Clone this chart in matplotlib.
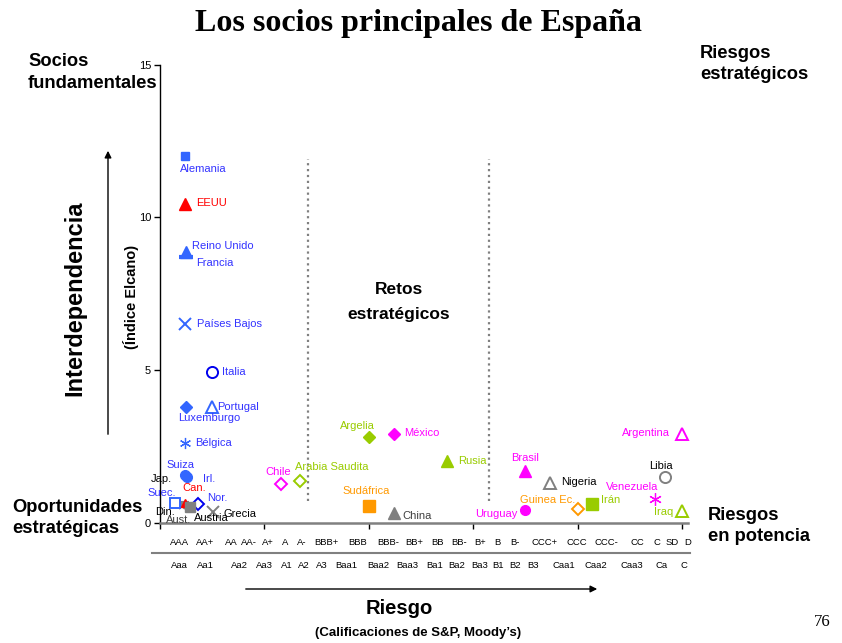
import matplotlib.pyplot as plt
from matplotlib.lines import Line2D

plt.rcParams['font.family'] = ['Liberation Sans', 'DejaVu Sans']

# Países: riesgo (escala de calificación) e interdependencia (Índice Elcano)
paises = ['Alemania', 'EEUU', 'Reino Unido', 'Francia', 'Países Bajos', 'Italia',
          'Luxemburgo', 'Portugal', 'Bélgica', 'Irl.', 'Suiza', 'Jap.', 'Din.',
          'Can.', 'Suec.', 'Nor.', 'Aust.', 'Austria', 'Grecia', 'Chile',
          'Arabia Saudita', 'Argelia', 'México', 'Rusia', 'Sudáfrica', 'China',
          'Uruguay', 'Brasil', 'Nigeria', 'Guinea Ec.', 'Irán', 'Venezuela',
          'Libia', 'Argentina', 'Iraq']
riesgo = [1.2, 1.2, 1.25, 1.25, 1.2, 2.5,
          1.25, 2.5, 1.2, 1.3, 1.2, 1.05, 1.1,
          1.2, 0.75, 1.85, 1.45, 1.45, 2.55, 5.8,
          6.7, 10.0, 11.2, 13.75, 10.0, 11.2,
          17.5, 17.5, 18.7, 20.0, 20.7, 23.7,
          24.2, 25.0, 25.0]
indice = [12.0, 10.45, 8.85, 8.7, 6.5, 4.95,
          3.8, 3.8, 2.6, 1.5, 1.55, 0.65, 0.55,
          0.66, 0.66, 0.62, 0.5, 0.5, 0.36, 1.28,
          1.38, 2.82, 2.92, 2.03, 0.56, 0.33,
          0.43, 1.7, 1.31, 0.46, 0.62, 0.79,
          1.5, 2.92, 0.39]

# Escalas de calificación
sp = ['AAA', 'AA+', 'AA', 'AA-', 'A+', 'A', 'A-', 'BBB+', 'BBB', 'BBB-', 'BB+',
      'BB', 'BB-', 'B+', 'B', 'B-', 'CCC+', 'CCC', 'CCC-', 'CC', 'C', 'SD', 'D']
moodys = ['Aaa', 'Aa1', 'Aa2', 'Aa3', 'A1', 'A2', 'A3', 'Baa1', 'Baa2', 'Baa3',
          'Ba1', 'Ba2', 'Ba3', 'B1', 'B2', 'B3', 'Caa1', 'Caa2', 'Caa3', 'Ca', 'C']

AZUL, AZUL_T, AZUL_O = '#3366ff', '#3333ff', '#0000ee'
ROJO, MAG, VERDE, NAR, GRIS = '#ff0000', '#ff00ff', '#99cc00', '#ff9900', '#808080'
AST = (6, 2, 0)

# marcador, color, relleno, tamaño, color del texto, desplazamiento etiqueta (px), alineación
estilos = {
    'Alemania':      ('s', AZUL, True, 6, AZUL_T, (-5, -13), 'left'),
    'EEUU':          ('^', ROJO, True, 8, ROJO, (12, 1), 'left'),
    'Reino Unido':   ('^', AZUL, True, 8, AZUL_T, (6, 6), 'left'),
    'Francia':       ('_', AZUL, True, 10, AZUL_T, (10, -6), 'left'),
    'Países Bajos':  ('x', AZUL, True, 8, AZUL_T, (12, 0), 'left'),
    'Italia':        ('o', AZUL_O, False, 8, AZUL_T, (10, 0), 'left'),
    'Luxemburgo':    ('D', AZUL, True, 6, AZUL_T, (-8, -11), 'left'),
    'Portugal':      ('^', AZUL, False, 8, AZUL_T, (5, 0), 'left'),
    'Bélgica':       (AST, AZUL, True, 8, AZUL_T, (11, 0), 'left'),
    'Irl.':          ('o', AZUL, True, 7, AZUL_T, (16, -2), 'left'),
    'Suiza':         ('o', AZUL, True, 7, AZUL_T, (-18, 10), 'left'),
    'Jap.':          ('_', GRIS, True, 11, 'black', (-31, 24), 'left'),
    'Din.':          ('x', GRIS, True, 5, 'black', (-27, -6), 'left'),
    'Can.':          ('^', ROJO, True, 6, ROJO, (-2, 15), 'left'),
    'Suec.':         ('s', AZUL, False, 7, AZUL_T, (-28, 10), 'left'),
    'Nor.':          ('D', AZUL_O, False, 6, AZUL_T, (9, 6), 'left'),
    'Aust.':         ('^', GRIS, True, 5, '#404040', (-24, -13), 'left'),
    'Austria':       ('s', GRIS, True, 7, 'black', (4, -11), 'left'),
    'Grecia':        ('x', GRIS, True, 8, 'black', (11, -2), 'left'),
    'Chile':         ('D', MAG, False, 6, MAG, (-15, 12), 'left'),
    'Arabia Saudita': ('D', VERDE, False, 6, VERDE, (-5, 14), 'left'),
    'Argelia':       ('D', VERDE, True, 6, VERDE, (-29, 11), 'left'),
    'México':        ('D', MAG, True, 6, MAG, (11, 1), 'left'),
    'Rusia':         ('^', VERDE, True, 8, VERDE, (11, 0), 'left'),
    'Sudáfrica':     ('s', NAR, True, 8, NAR, (-26, 15), 'left'),
    'China':         ('^', GRIS, True, 8, '#404040', (9, -3), 'left'),
    'Uruguay':       ('o', MAG, True, 7, MAG, (-8, -4), 'right'),
    'Brasil':        ('^', MAG, True, 8, MAG, (-14, 13), 'left'),
    'Nigeria':       ('^', GRIS, False, 8, 'black', (11, 1), 'left'),
    'Guinea Ec.':    ('D', NAR, False, 6, NAR, (-58, 9), 'left'),
    'Irán':          ('s', VERDE, True, 8, VERDE, (9, 4), 'left'),
    'Venezuela':     (AST, MAG, True, 9, MAG, (-49, 12), 'left'),
    'Libia':         ('o', GRIS, False, 8, 'black', (-16, 11), 'left'),
    'Argentina':     ('^', MAG, False, 8, MAG, (-12, 1), 'right'),
    'Iraq':          ('^', VERDE, False, 8, VERDE, (-9, -1), 'right'),
}

W, H = 842, 643
fig = plt.figure(figsize=(W / 100, H / 100), dpi=100)
ax = fig.add_axes([159.5 / W, 120.3 / H, 528.8 / W, 458 / H])
ax.set_xlim(0, 25.3)
ax.set_ylim(0, 15)

for spine in ['top', 'right']:
    ax.spines[spine].set_visible(False)
ax.spines['left'].set_color('black')
ax.spines['left'].set_linewidth(1)
ax.spines['bottom'].set_color(GRIS)
ax.spines['bottom'].set_linewidth(1.8)
ax.set_yticks([0, 5, 10, 15])
ax.set_xticks([0, 5, 10, 15, 20, 25])
ax.set_xticklabels([])
ax.tick_params(axis='y', labelsize=8, length=4, width=1, pad=2)
ax.tick_params(axis='x', length=4, width=1, color='black')

# zonas
ax.vlines([7.1, 15.76], 0.72, 11.9, colors=GRIS, linestyles=':', linewidth=1.6)

for nombre, x, y in zip(paises, riesgo, indice):
    m, c, lleno, ms, ct, (dx, dy), ha = estilos[nombre]
    if m == '_':
        lw = 3
    elif m == AST:
        lw = 0.9
    elif m == 'x' or not lleno:
        lw = 1.4
    else:
        lw = 1
    ax.plot(x, y, marker=m, markersize=ms, color=c,
            markerfacecolor=c if lleno else 'white', markeredgecolor=c,
            markeredgewidth=lw, linestyle='none', clip_on=False, zorder=3)
    ax.annotate(nombre, (x, y), xytext=(dx * 0.72, dy * 0.72), textcoords='offset points',
                ha=ha, va='center', fontsize=8, color=ct, zorder=4)

# escalas de calificación bajo el eje
sp_x = [0.95, 2.2, 3.45, 4.3, 5.2, 6.0, 6.8, 8.0, 9.5, 10.95, 12.2, 13.3, 14.35,
        15.35, 16.15, 17.0, 18.4, 19.95, 21.4, 22.85, 23.8, 24.55, 25.25]
mo_x = [0.95, 2.2, 3.85, 5.0, 6.1, 6.9, 7.75, 8.95, 10.45, 11.85, 13.15, 14.2,
        15.3, 16.2, 17.0, 17.85, 19.35, 20.9, 22.6, 24.0, 25.1]
xt = ax.get_xaxis_transform()
for lab, x in zip(sp, sp_x):
    ax.text(x, -0.043, lab, transform=xt, ha='center', va='center', fontsize=6.8)
for lab, x in zip(moodys, mo_x):
    ax.text(x, -0.093, lab, transform=xt, ha='center', va='center', fontsize=6.8)
fig.add_artist(Line2D([152 / W, 690 / W], [1 - 553 / H] * 2, color=GRIS, lw=1.5))


def ft(x, y, s, **kw):
    fig.text(x / W, 1 - y / H, s, **kw)


ft(418, 23, 'Los socios principales de España', family='Liberation Serif',
   fontweight='bold', fontsize=23, ha='center', va='center')

esquinas = dict(fontweight='bold', fontsize=13.2, va='center', linespacing=1.3)
ft(28, 61, 'Socios', ha='left', **esquinas)
ft(28, 83, 'fundamentales', ha='left', **esquinas)
ft(700, 64, 'Riesgos\nestratégicos', ha='left', **esquinas)
ft(12, 518, 'Oportunidades\nestratégicas', ha='left', **esquinas)
ft(708, 526, 'Riesgos\nen potencia', ha='left', **esquinas)
ft(399, 302, 'Retos\nestratégicos', fontweight='bold', fontsize=12.5, ha='center',
   va='center', linespacing=1.9)

ft(75, 298, 'Interdependencia', fontweight='bold', fontsize=17, rotation=90,
   ha='center', va='center')
ft(131, 297, '(Índice Elcano)', fontweight='bold', fontsize=10.5, rotation=90,
   ha='center', va='center')
ft(399, 608, 'Riesgo', fontweight='bold', fontsize=14.5, ha='center', va='center')
ft(418, 633, '(Calificaciones de S&P, Moody’s)', fontweight='bold', fontsize=9.5,
   ha='center', va='center')
ft(822, 622, '76', family='Liberation Serif', fontsize=12, ha='center', va='center')

# flechas de los ejes
ax.annotate('', xy=(108 / W, 1 - 148 / H), xytext=(108 / W, 1 - 437 / H),
            xycoords='figure fraction', textcoords='figure fraction',
            arrowprops=dict(arrowstyle='-|>', color='black', lw=1, mutation_scale=10))
ax.annotate('', xy=(600 / W, 1 - 589 / H), xytext=(243 / W, 1 - 589 / H),
            xycoords='figure fraction', textcoords='figure fraction',
            arrowprops=dict(arrowstyle='-|>', color='black', lw=1, mutation_scale=10))

fig.savefig('out.png', dpi=100)
